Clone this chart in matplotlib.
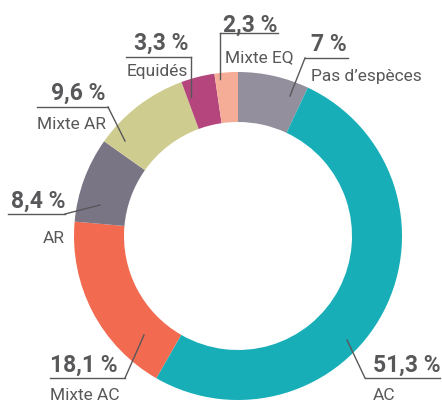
import matplotlib.pyplot as plt

# data, clockwise from 12 o'clock
categories = ["Pas d’espèces", 'AC', 'Mixte AC', 'AR', 'Mixte AR', 'Equidés', 'Mixte EQ']
values = [7.0, 51.3, 18.1, 8.4, 9.6, 3.3, 2.3]
pct_labels = ['7 %', '51,3 %', '18,1 %', '8,4 %', '9,6 %', '3,3 %', '2,3 %']
colors = ['#938f9d', '#17aeb8', '#f26b50', '#7a7585', '#cfcc8f', '#b5457d', '#f6ad98']

# label layout in pixel coords (y from top):
# (pct x, pct baseline, name x, name baseline, ha, line x0, line x1, line y, leader end x, leader end y, leader from x)
layout = [
    (311, 51, 311, 81, 'left', 305, 348, 59, 290, 97, 305),
    (373, 372, 373, 400, 'left', 365, 440, 379, 347, 341, 365),
    (50, 372, 50, 400, 'left', 50, 125, 379, 144, 336, 125),
    (65, 208, 65, 243, 'right', 8, 65, 215, 100, 206, 65),
    (51, 100, 37, 129, 'left', 37, 108, 108, 125, 142, 108),
    (188, 50, 188, 76, 'right', 126, 191, 58, 191, 98, 191),
    (223, 32, 225, 62, 'left', 220, 278, 34, 220, 80, 220),
]

W, H = 442, 402
fam = ['Roboto', 'DejaVu Sans']

fig = plt.figure(figsize=(W / 100, H / 100), dpi=100)
ax = fig.add_axes([0, 0, 1, 1])

cx, cy, r = 238, 237, 164
ax.pie(values, colors=colors, startangle=90, counterclock=False,
       center=(cx, H - cy), radius=r, frame=True,
       wedgeprops=dict(width=50, linewidth=0))
ax.set_xlim(0, W)
ax.set_ylim(0, H)
ax.axis('off')

txt = '#58585a'
for name, pct, lay in zip(categories, pct_labels, layout):
    px, py, nx, ny, ha, x0, x1, ly, ex, ey, fx = lay
    ax.plot([x0, x1], [H - ly, H - ly], color=txt, lw=1)
    ax.plot([fx, ex], [H - ly, H - ey], color=txt, lw=1)
    ax.text(px, H - py, pct, ha=ha, va='baseline', fontsize=16.5,
            fontweight='bold', color=txt, family=fam)
    ax.text(nx, H - ny, name, ha=ha, va='baseline', fontsize=12.5,
            color=txt, family=fam)

fig.savefig('out.png', dpi=100)
